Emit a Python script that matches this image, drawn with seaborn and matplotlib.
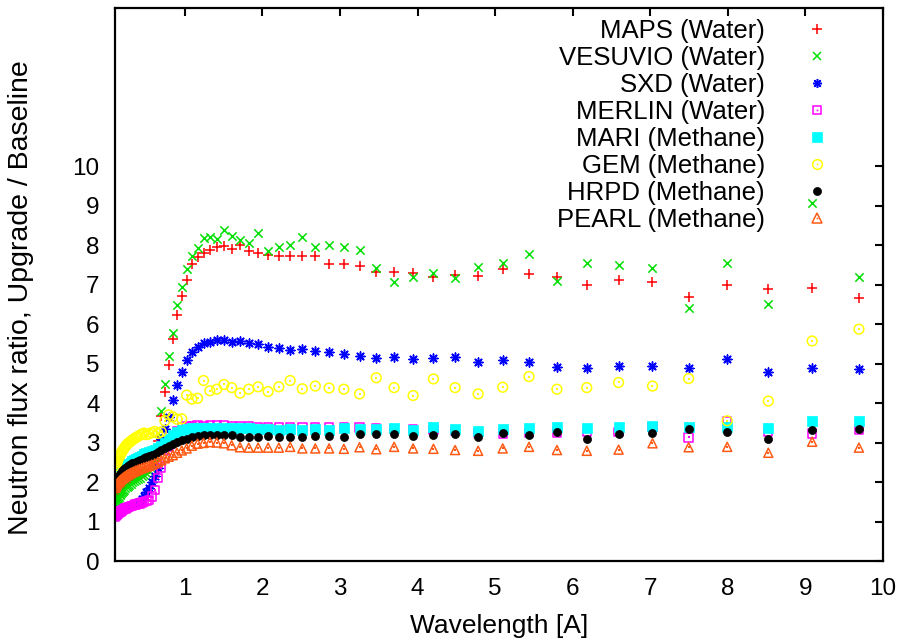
import numpy as np
import pandas as pd
import matplotlib
matplotlib.use("Agg")
import matplotlib.pyplot as plt
import seaborn as sns
from matplotlib.lines import Line2D
from matplotlib.legend_handler import HandlerTuple

# wavelength bins [A] (log spaced)
wavelength = [
    0.101, 0.108, 0.115, 0.123, 0.131,
    0.140, 0.149, 0.159, 0.169, 0.181, 0.193, 0.205, 0.219, 0.234, 0.249,
    0.266, 0.283, 0.302, 0.322, 0.343, 0.366, 0.390, 0.416, 0.444, 0.473,
    0.505, 0.538, 0.574, 0.612, 0.653, 0.696, 0.742, 0.791, 0.844, 0.900,
    0.960, 1.023, 1.091, 1.164, 1.241, 1.323, 1.411, 1.504, 1.604, 1.711,
    1.824, 1.945, 2.074, 2.212, 2.358, 2.515, 2.682, 2.860, 3.050, 3.252,
    3.468, 3.698, 3.943, 4.205, 4.484, 4.781, 5.098, 5.437, 5.797, 6.182,
    6.592, 7.029, 7.495, 7.992, 8.522, 9.087, 9.690,
]

maps = [
    1.52, 1.55, 1.58, 1.61, 1.64,
    1.67, 1.70, 1.73, 1.76, 1.79, 1.82, 1.85, 1.88, 1.91, 1.94,
    1.97, 2.00, 2.03, 2.06, 2.09, 2.12, 2.15, 2.18, 2.21, 2.24,
    2.28, 2.33, 2.40, 2.52, 3.05, 3.68, 4.27, 4.96, 5.62, 6.24,
    6.72, 7.11, 7.51, 7.70, 7.80, 7.88, 7.96, 7.98, 7.89, 7.99,
    7.86, 7.79, 7.74, 7.72, 7.71, 7.71, 7.71, 7.52, 7.53, 7.48,
    7.32, 7.32, 7.29, 7.20, 7.24, 7.22, 7.39, 7.27, 7.20, 6.99,
    7.11, 7.07, 6.68, 6.99, 6.88, 6.90, 6.65,
]
vesuvio = [
    1.45, 1.48, 1.51, 1.54, 1.57,
    1.60, 1.63, 1.66, 1.69, 1.72, 1.75, 1.78, 1.81, 1.84, 1.87,
    1.90, 1.93, 1.96, 1.99, 2.02, 2.05, 2.08, 2.11, 2.14, 2.18,
    2.22, 2.27, 2.34, 2.50, 3.25, 3.80, 4.47, 5.20, 5.78, 6.48,
    6.93, 7.39, 7.71, 7.92, 8.19, 8.21, 8.14, 8.37, 8.22, 8.13,
    8.04, 8.31, 7.85, 7.96, 8.00, 8.21, 7.96, 8.00, 7.96, 7.87,
    7.41, 7.07, 7.18, 7.30, 7.17, 7.45, 7.54, 7.77, 7.10, 7.54,
    7.49, 7.41, 6.40, 7.55, 6.51, 9.06, 7.20,
]
sxd = [
    1.16, 1.18, 1.19, 1.21, 1.22,
    1.24, 1.25, 1.27, 1.28, 1.30, 1.31, 1.33, 1.34, 1.36, 1.37,
    1.39, 1.40, 1.42, 1.43, 1.45, 1.46, 1.48, 1.50, 1.56, 1.64,
    1.74, 1.86, 2.00, 2.15, 2.35, 3.10, 3.35, 3.65, 4.08, 4.46,
    4.79, 5.10, 5.30, 5.43, 5.51, 5.55, 5.59, 5.59, 5.55, 5.57,
    5.53, 5.49, 5.41, 5.40, 5.34, 5.37, 5.32, 5.28, 5.23, 5.19,
    5.13, 5.17, 5.11, 5.13, 5.16, 5.05, 5.09, 5.05, 4.90, 4.88,
    4.94, 4.94, 4.88, 5.11, 4.78, 4.88, 4.86,
]
merlin = [
    1.13, 1.15, 1.16, 1.18, 1.19,
    1.21, 1.22, 1.24, 1.25, 1.27, 1.28, 1.30, 1.31, 1.33, 1.34,
    1.36, 1.37, 1.39, 1.40, 1.42, 1.43, 1.45, 1.46, 1.48, 1.50,
    1.52, 1.55, 1.63, 1.80, 2.10, 2.35, 2.60, 2.90, 3.15, 3.30,
    3.38, 3.42, 3.42, 3.43, 3.42, 3.43, 3.44, 3.43, 3.42, 3.42,
    3.41, 3.40, 3.40, 3.39, 3.40, 3.39, 3.40, 3.38, 3.38, 3.38,
    3.36, 3.35, 3.35, 3.31, 3.30, 3.24, 3.22, 3.25, 3.25, 3.27,
    3.27, 3.40, 3.13, 3.53, 3.27, 3.23, 3.33,
]
mari = [
    1.98, 2.01, 2.04, 2.07, 2.10,
    2.13, 2.16, 2.19, 2.22, 2.25, 2.28, 2.31, 2.34, 2.37, 2.40,
    2.43, 2.46, 2.49, 2.52, 2.55, 2.58, 2.61, 2.64, 2.67, 2.70,
    2.73, 2.76, 2.79, 2.82, 2.85, 2.92, 3.00, 3.10, 3.20, 3.27,
    3.32, 3.35, 3.36, 3.37, 3.38, 3.38, 3.38, 3.38, 3.38, 3.37,
    3.36, 3.34, 3.33, 3.32, 3.34, 3.32, 3.33, 3.32, 3.36, 3.33,
    3.33, 3.36, 3.32, 3.40, 3.33, 3.30, 3.33, 3.38, 3.40, 3.36,
    3.40, 3.42, 3.40, 3.40, 3.36, 3.55, 3.55,
]
gem = [
    2.30, 2.36, 2.42, 2.48, 2.53,
    2.58, 2.62, 2.66, 2.70, 2.74, 2.78, 2.82, 2.86, 2.90, 2.94,
    2.97, 3.00, 3.03, 3.06, 3.09, 3.12, 3.15, 3.18, 3.21, 3.24,
    3.20, 3.22, 3.25, 3.28, 3.23, 3.27, 3.55, 3.70, 3.65, 3.59,
    3.60, 4.20, 4.10, 4.12, 4.57, 4.31, 4.35, 4.47, 4.39, 4.25,
    4.35, 4.41, 4.29, 4.41, 4.57, 4.36, 4.43, 4.38, 4.35, 4.23,
    4.64, 4.39, 4.19, 4.61, 4.39, 4.23, 4.40, 4.67, 4.35, 4.39,
    4.52, 4.43, 4.62, 3.55, 4.05, 5.57, 5.87,
]
hrpd = [
    1.93, 1.97, 2.01, 2.05, 2.09,
    2.12, 2.15, 2.18, 2.21, 2.24, 2.27, 2.30, 2.33, 2.36, 2.39,
    2.41, 2.43, 2.45, 2.47, 2.49, 2.51, 2.53, 2.55, 2.57, 2.60,
    2.63, 2.66, 2.69, 2.72, 2.76, 2.80, 2.85, 2.90, 2.96, 3.02,
    3.07, 3.10, 3.14, 3.16, 3.18, 3.19, 3.19, 3.20, 3.18, 3.14,
    3.15, 3.15, 3.16, 3.13, 3.15, 3.13, 3.16, 3.16, 3.15, 3.21,
    3.21, 3.21, 3.17, 3.19, 3.21, 3.13, 3.23, 3.19, 3.26, 3.09,
    3.21, 3.23, 3.33, 3.26, 3.08, 3.32, 3.33,
]
pearl = [
    1.85, 1.88, 1.91, 1.94, 1.97,
    1.99, 2.01, 2.03, 2.05, 2.07, 2.09, 2.11, 2.13, 2.15, 2.17,
    2.19, 2.21, 2.23, 2.25, 2.27, 2.29, 2.31, 2.33, 2.35, 2.37,
    2.39, 2.41, 2.44, 2.47, 2.51, 2.55, 2.60, 2.64, 2.68, 2.74,
    2.80, 2.85, 2.92, 2.97, 2.99, 3.01, 3.00, 2.98, 2.93, 2.88,
    2.87, 2.87, 2.87, 2.87, 2.89, 2.85, 2.85, 2.85, 2.84, 2.88,
    2.83, 2.89, 2.85, 2.84, 2.81, 2.79, 2.85, 2.89, 2.81, 2.79,
    2.82, 2.98, 2.88, 2.89, 2.74, 3.02, 2.87,
]

labels = ["MAPS (Water)", "VESUVIO (Water)", "SXD (Water)", "MERLIN (Water)",
          "MARI (Methane)", "GEM (Methane)", "HRPD (Methane)", "PEARL (Methane)"]
series = [maps, vesuvio, sxd, merlin, mari, gem, hrpd, pearl]
colors = ["#ff0000", "#00e000", "#0000ff", "#ff00ff",
          "#00ffff", "#ffff00", "#000000", "#ff5a14"]
# marker, size (pt), filled?, centre dot?
styles = [("+", 6.5, False, False), ("x", 6.0, False, False), ((8, 2, 0), 6.5, False, False),
          ("s", 6.0, False, True), ("s", 7.0, True, False), ("o", 7.0, False, True),
          ("o", 5.8, True, False), ("^", 6.5, False, True)]

sns.set_theme(style="white")
plt.rcParams["font.family"] = ["Liberation Sans", "DejaVu Sans"]
plt.rcParams["text.color"] = "black"
plt.rcParams["axes.labelcolor"] = "black"
plt.rcParams["xtick.color"] = "black"
plt.rcParams["ytick.color"] = "black"

fig = plt.figure(figsize=(9.07, 6.43), dpi=100)
ax = fig.add_axes([0.1268, 0.1275, 0.8467, 0.8600])

handles = []
for lab, ys, col, (mk, ms, filled, dot) in zip(labels, series, colors, styles):
    df = pd.DataFrame({"Wavelength": wavelength, "Ratio": ys})
    if filled:
        sns.scatterplot(data=df, x="Wavelength", y="Ratio", marker=mk, s=ms ** 2,
                        color=col, edgecolor=col, linewidth=0.5, ax=ax)
        h = Line2D([], [], ls="", marker=mk, ms=ms, color=col, mec=col, mew=0.5)
    elif mk in ("s", "o", "^"):
        sns.scatterplot(data=df, x="Wavelength", y="Ratio", marker=mk, s=ms ** 2,
                        facecolor="none", edgecolor=col, linewidth=1.1, ax=ax)
        h = Line2D([], [], ls="", marker=mk, ms=ms, mfc="none", mec=col, mew=1.1)
    else:
        sns.scatterplot(data=df, x="Wavelength", y="Ratio", marker=mk, s=ms ** 2,
                        color=col, linewidth=1.1, ax=ax)
        h = Line2D([], [], ls="", marker=mk, ms=ms, color=col, mew=1.1)
    if dot:
        sns.scatterplot(data=df, x="Wavelength", y="Ratio", marker="s", s=1.5,
                        color=col, edgecolor=col, linewidth=0, ax=ax)
        h = (h, Line2D([], [], ls="", marker="s", ms=1.2, color=col, mew=0))
    handles.append(h)

ax.set_xlim(0.1, 10)
ax.set_ylim(0, 14)
ax.set_xticks(range(1, 11))
ax.set_yticks(range(0, 11))
ax.tick_params(direction="in", length=6, width=1.5, labelsize=17.5,
               top=True, right=True, pad=12)
ax.tick_params(axis="y", pad=11)
for sp in ax.spines.values():
    sp.set_linewidth(1.6)
    sp.set_color("black")
ax.set_xlabel("Wavelength [A]", fontsize=19, labelpad=10)
ax.set_ylabel("Neutron flux ratio, Upgrade / Baseline", fontsize=20.5)
ax.yaxis.set_label_coords(-0.105, 0.477)

ax.legend(handles, labels, loc="upper right", bbox_to_anchor=(0.9475, 0.981),
          markerfirst=False, frameon=False, fontsize=18.5, handlelength=2.0,
          handletextpad=1.02, labelspacing=0.12, borderpad=0, borderaxespad=0,
          handler_map={tuple: HandlerTuple(ndivide=1)})

fig.savefig("out.png", dpi=100)
